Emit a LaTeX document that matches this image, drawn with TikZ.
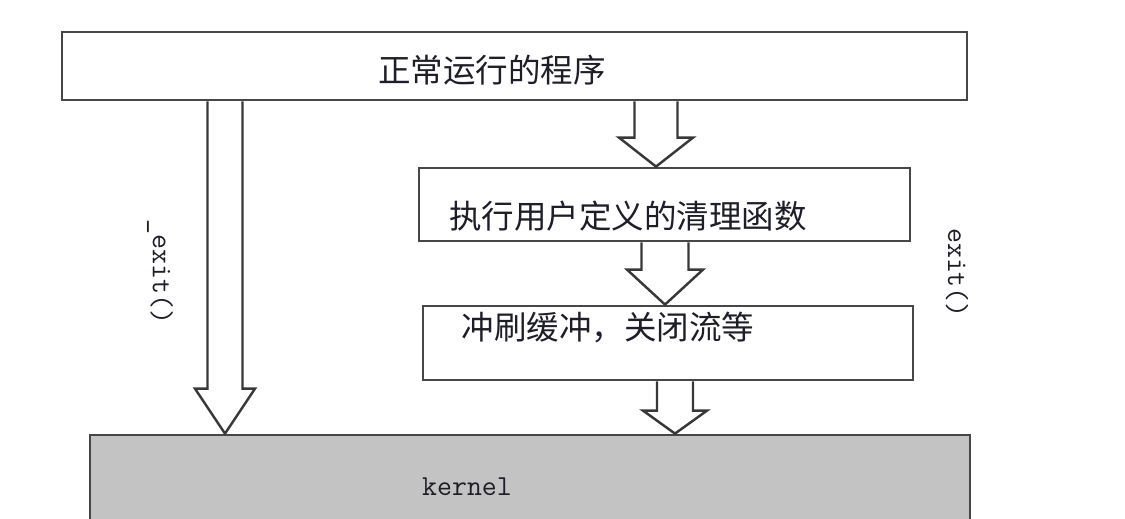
\documentclass[tikz,border=0pt]{standalone}
\usepackage{fontspec}
\newfontfamily\cjk{Noto Sans CJK SC}
\usetikzlibrary{calc}
\definecolor{griskernel}{RGB}{195,195,195}
\definecolor{tinta}{RGB}{30,30,40}

% flecha hueca: desde, hasta, medio ancho del tallo, medio ancho de la punta, largo de la punta
\newcommand{\flechahueca}[5]{%
    \filldraw[flecha] let \p1=(#1), \p2=(#2) in
        ({\x1-#3},\y1) -- ({\x1-#3},{\y2+#5}) -- ({\x1-#4},{\y2+#5}) -- (\x1,\y2)
        -- ({\x1+#4},{\y2+#5}) -- ({\x1+#3},{\y2+#5}) -- ({\x1+#3},\y1);
}

\begin{document}
\begin{tikzpicture}[
        x=0.02cm, y=-0.02cm,
        caja/.style={
            rectangle,
            draw=black!72,
            line width=1.6pt,
            fill=white,
            inner sep=0pt
        },
        texto/.style={
            font=\cjk\fontsize{18.5}{20}\selectfont,
            text=tinta,
            inner sep=0pt
        },
        codigo/.style={
            font=\ttfamily\fontsize{16.5}{18}\selectfont,
            text=tinta,
            inner sep=0pt
        },
        flecha/.style={draw=black!78, fill=white, line width=1.4pt, line join=miter}
    ]
        \useasboundingbox (0,0) rectangle (1125,519);

        \node[caja, minimum width=18.1cm, minimum height=1.36cm] (prog) at (514.5,66) {};
        \node[caja, minimum width=9.82cm, minimum height=1.46cm] (limpieza) at (664.5,204.5) {};
        \node[caja, minimum width=9.8cm, minimum height=1.48cm] (vaciado) at (668,343) {};
        \node[caja, fill=griskernel, minimum width=17.6cm, minimum height=2.2cm] (nucleo) at (530,490) {};

        \node[texto] (progtxt) at (492,70) {正常运行的程序};
        \node[texto] (limpiezatxt) at (628,216) {执行用户定义的清理函数};
        \node[texto] (vaciadotxt) at (608,328) {冲刷缓冲，关闭流等};
        \node[codigo] (nucleotxt) at (467,487) {kernel};

        \node[codigo, rotate=-90] (salidarapida) at (160,272) {\_exit()};
        \node[codigo, rotate=-90] (salida) at (957,273) {exit()};

        \flechahueca{prog.south -| 225,0}{nucleo.north -| 225,0}{0.35cm}{0.6cm}{0.9cm}
        \flechahueca{prog.south -| 656,0}{limpieza.north -| 656,0}{0.43cm}{0.74cm}{0.58cm}
        \flechahueca{limpieza.south -| 665,0}{vaciado.north -| 665,0}{0.47cm}{0.76cm}{0.7cm}
        \flechahueca{vaciado.south -| 675,0}{nucleo.north -| 675,0}{0.36cm}{0.64cm}{0.46cm}
    \end{tikzpicture}
\end{document}
